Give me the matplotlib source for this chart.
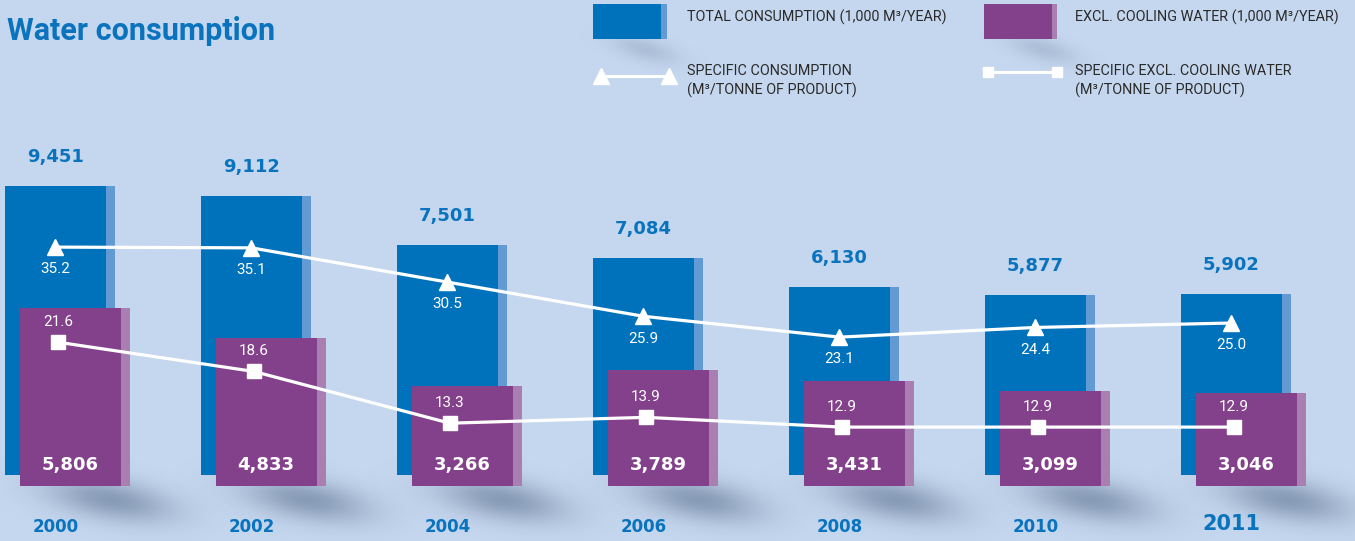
import numpy as np
import matplotlib
matplotlib.use("Agg")
import matplotlib.pyplot as plt
from matplotlib.patches import Rectangle
from matplotlib import font_manager

# data
years = ["2000", "2002", "2004", "2006", "2008", "2010", "2011"]
total = [9451, 9112, 7501, 7084, 6130, 5877, 5902]          # 1,000 m3/year
excl_cooling = [5806, 4833, 3266, 3789, 3431, 3099, 3046]   # 1,000 m3/year
spec_total = [35.2, 35.1, 30.5, 25.9, 23.1, 24.4, 25.0]     # m3/tonne
spec_excl = [21.6, 18.6, 13.3, 13.9, 12.9, 12.9, 12.9]      # m3/tonne

# colours
BG = "#c5d7ee"
BLUE = "#0072bc"
BLUE_SIDE = "#629bd3"
PURPLE = "#84418b"
PURPLE_SIDE = "#a97fb1"
TXT_BLUE = "#0a73bd"
LEG_TXT = "#2a2a2a"
SHADOW_RGB = (0.30, 0.38, 0.50)

names = {f.name for f in font_manager.fontManager.ttflist}
NARROW = "Liberation Sans Narrow" if "Liberation Sans Narrow" in names else "Roboto"

# layout in pixels
W, H = 1355, 541
X0, STEP = 55.5, 196.0          # centre of first group, group spacing
BAR_W, SIDE_W = 101 / STEP, 9 / STEP
PURPLE_DX = 14.5                # purple bars sit right/down of the blue ones
BLUE_BASE, PURPLE_BASE = 475, 486
BAR_PPU = 0.0306                # px per 1,000 m3
TRI_BASE, TRI_PPU = 509, 7.44   # specific consumption scale
SQ_BASE, SQ_PPU = 553, 9.76     # specific excl. cooling scale

fig = plt.figure(figsize=(W / 100, H / 100), dpi=100)
fig.patch.set_facecolor(BG)


def overlay(base, ppu, dx=0.0):
    ax = fig.add_axes([0, 0, 1, 1])
    ax.set_axis_off()
    ax.patch.set_alpha(0)
    ax.set_xlim((-X0 - dx) / STEP, (W - X0 - dx) / STEP)
    ax.set_ylim(-(H - base) / ppu, base / ppu)
    return ax


def soft_shadow(ax, cx, cy, su, sv, alpha, angle=10):
    # blurred, slightly tilted ellipse in pixel space
    hw, hh = 3.2 * su, 3.2 * sv + su * 0.4
    xs = np.linspace(-hw, hw, 241)
    ys = np.linspace(-hh, hh, 121)
    gx, gy = np.meshgrid(xs, ys)
    t = np.radians(angle)
    u = gx * np.cos(t) + gy * np.sin(t)
    v = -gx * np.sin(t) + gy * np.cos(t)
    rgba = np.zeros(gx.shape + (4,))
    rgba[..., :3] = SHADOW_RGB
    rgba[..., 3] = alpha * np.exp(-(u ** 2 / (2 * su ** 2) + v ** 2 / (2 * sv ** 2)))
    ax.imshow(rgba, extent=(cx - hw, cx + hw, cy + hh, cy - hh), origin="upper",
              aspect="auto", interpolation="bilinear", zorder=0)


# background layer in pixel coordinates: title, legend, shadows
ax_bg = fig.add_axes([0, 0, 1, 1])
ax_bg.set_axis_off()
ax_bg.patch.set_alpha(0)

x = np.arange(len(years))
for i in x:
    soft_shadow(ax_bg, X0 + STEP * i + 55, 500, 44, 14, 0.5)
soft_shadow(ax_bg, 645, 50, 24, 8, 0.2, angle=15)
soft_shadow(ax_bg, 1043, 50, 24, 8, 0.2, angle=15)
ax_bg.set_xlim(0, W)
ax_bg.set_ylim(H, 0)

fig.text(7 / W, 1 - 31 / H, "Water consumption", color=TXT_BLUE,
         fontsize=22, fontweight="bold", family="Roboto", va="center", ha="left")

# legend
ax_bg.add_patch(Rectangle((593, 4), 68, 35, color=BLUE, lw=0))
ax_bg.add_patch(Rectangle((661, 4), 6, 35, color=BLUE_SIDE, lw=0))
ax_bg.add_patch(Rectangle((984, 4), 68, 35, color=PURPLE, lw=0))
ax_bg.add_patch(Rectangle((1052, 4), 5, 35, color=PURPLE_SIDE, lw=0))
ax_bg.plot([601, 669], [76, 76], color="white", lw=2.2, marker="^", ms=11)
ax_bg.plot([988, 1057], [72, 72], color="white", lw=2.2, marker="s", ms=6.5)
leg_kw = dict(color=LEG_TXT, fontsize=10.4, family=NARROW, va="center", ha="left")
ax_bg.text(687, 17, "TOTAL CONSUMPTION (1,000 M³/YEAR)", **leg_kw)
ax_bg.text(1075, 17, "EXCL. COOLING WATER (1,000 M³/YEAR)", **leg_kw)
ax_bg.text(687, 71, "SPECIFIC CONSUMPTION", **leg_kw)
ax_bg.text(687, 90, "(M³/TONNE OF PRODUCT)", **leg_kw)
ax_bg.text(1075, 71, "SPECIFIC EXCL. COOLING WATER", **leg_kw)
ax_bg.text(1075, 90, "(M³/TONNE OF PRODUCT)", **leg_kw)

# blue bars (total)
ax_b = overlay(BLUE_BASE, BAR_PPU)
ax_b.bar(x, total, width=BAR_W, color=BLUE, lw=0)
ax_b.bar(x + BAR_W / 2 + SIDE_W / 2, total, width=SIDE_W, color=BLUE_SIDE, lw=0)
for xi, v in zip(x, total):
    ax_b.annotate(f"{v:,}", (xi, v), xytext=(0, 21), textcoords="offset points",
                  ha="center", va="center", color=TXT_BLUE, fontsize=13,
                  fontweight="bold", family="DejaVu Sans")
for xi, y in zip(x, years):
    big = y == "2011"
    ax_b.annotate(y, (xi, 0), xytext=(0, -35 if big else -37.5), textcoords="offset points",
                  ha="center", va="center", color=TXT_BLUE, fontsize=15 if big else 12,
                  fontweight="bold", family="DejaVu Sans")

# purple bars (excl. cooling water)
ax_p = overlay(PURPLE_BASE, BAR_PPU, PURPLE_DX)
ax_p.bar(x, excl_cooling, width=BAR_W, color=PURPLE, lw=0)
ax_p.bar(x + BAR_W / 2 + SIDE_W / 2, excl_cooling, width=SIDE_W, color=PURPLE_SIDE, lw=0)
for xi, v in zip(x, excl_cooling):
    ax_p.annotate(f"{v:,}", (xi, 0), xytext=(0, 15), textcoords="offset points",
                  ha="center", va="center", color="white", fontsize=13,
                  fontweight="bold", family="DejaVu Sans")

# specific consumption line
ax_t = overlay(TRI_BASE, TRI_PPU)
ax_t.plot(x, spec_total, color="white", lw=2.3, marker="^", ms=12)
for xi, v in zip(x, spec_total):
    ax_t.annotate(f"{v:.1f}", (xi, v), xytext=(0, -16), textcoords="offset points",
                  ha="center", va="center", color="white", fontsize=11, family="Roboto")

# specific excl. cooling water line
ax_s = overlay(SQ_BASE, SQ_PPU)
ax_s.plot(x + 0.012, spec_excl, color="white", lw=2.3, marker="s", ms=9.5)
for xi, v in zip(x, spec_excl):
    ax_s.annotate(f"{v:.1f}", (xi + 0.012, v), xytext=(0, 14.5), textcoords="offset points",
                  ha="center", va="center", color="white", fontsize=11, family="Roboto")

fig.savefig("out.png", dpi=100, facecolor=BG)
